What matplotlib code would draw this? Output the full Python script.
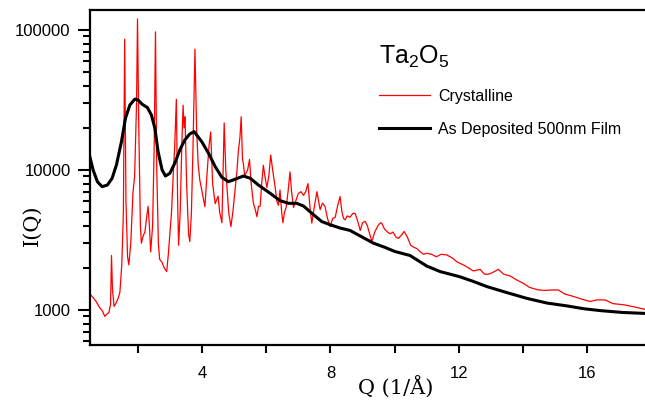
import numpy as np
import matplotlib
matplotlib.use("Agg")
import matplotlib.pyplot as plt
from matplotlib.ticker import FixedLocator, FuncFormatter

# Crystalline Ta2O5 (red)
q_cryst = [0.51, 0.60, 0.70, 0.80, 0.90, 0.97, 1.03, 1.10, 1.15, 1.18, 1.21, 1.26, 1.32, 1.38, 1.44,
           1.50, 1.55, 1.59, 1.63, 1.68, 1.72, 1.78, 1.85, 1.90, 1.96, 1.99, 2.03, 2.08, 2.11, 2.17,
           2.22, 2.27, 2.32, 2.36, 2.40, 2.46, 2.51, 2.55, 2.59, 2.64, 2.68, 2.75, 2.82, 2.90, 2.95,
           3.00, 3.05, 3.10, 3.15, 3.20, 3.24, 3.27, 3.32, 3.37, 3.41, 3.44, 3.47, 3.52, 3.58, 3.62,
           3.67, 3.72, 3.78, 3.83, 3.88, 3.93, 4.00, 4.09, 4.15, 4.22, 4.27, 4.33, 4.41, 4.50, 4.55,
           4.62, 4.69, 4.74, 4.77, 4.83, 4.90, 4.96, 5.03, 5.09, 5.13, 5.18, 5.22, 5.26, 5.29, 5.33,
           5.37, 5.42, 5.48, 5.53, 5.60, 5.66, 5.71, 5.76, 5.81, 5.86, 5.91, 5.96, 6.02, 6.08, 6.14,
           6.20, 6.28, 6.33, 6.38, 6.43, 6.48, 6.52, 6.57, 6.62, 6.68, 6.74, 6.79, 6.85, 6.92, 7.00,
           7.08, 7.16, 7.23, 7.30, 7.36, 7.42, 7.50, 7.58, 7.63, 7.68, 7.75, 7.83, 7.91, 7.99, 8.07,
           8.15, 8.22, 8.30, 8.36, 8.41, 8.46, 8.52, 8.61, 8.70, 8.77, 8.85, 8.93, 9.00, 9.08, 9.15,
           9.22, 9.29, 9.38, 9.48, 9.56, 9.60, 9.68, 9.78, 9.86, 9.95, 10.05, 10.12, 10.20, 10.30, 10.40,
           10.50, 10.60, 10.69, 10.80, 10.90, 11.00, 11.15, 11.30, 11.45, 11.63, 11.80, 11.95, 12.14, 12.30, 12.45,
           12.66, 12.80, 12.92, 13.05, 13.23, 13.40, 13.60, 13.80, 14.01, 14.20, 14.48, 14.70, 14.90, 15.10, 15.30,
           15.57, 15.80, 16.09, 16.30, 16.56, 16.80, 17.13, 17.40, 17.80]
i_cryst = [1300, 1230, 1150, 1050, 980, 900, 930, 960, 1100, 2450, 1400, 1060, 1120, 1200, 1330,
           2100, 5000, 86000, 6000, 2400, 2100, 3000, 7000, 9000, 30000, 120000, 20000, 4000, 3000, 3400,
           3600, 4500, 5500, 4000, 2600, 4000, 15000, 97000, 10000, 3000, 2300, 2200, 2000, 1880, 2500,
           3550, 5000, 8900, 15000, 32000, 6000, 2900, 5000, 15000, 29000, 20000, 24000, 8000, 3500, 3080,
           5000, 15000, 73000, 20000, 11000, 8500, 7000, 5470, 9000, 15000, 18700, 8000, 5750, 6500, 5000,
           4200, 21700, 10000, 8000, 5000, 3940, 5000, 7200, 10000, 13500, 17000, 24000, 12000, 11000, 9000,
           9500, 10000, 11900, 8000, 5800, 5200, 4640, 5500, 5500, 8000, 10800, 9000, 7500, 9000, 12800,
           10000, 7500, 6000, 5600, 7200, 5000, 4200, 5000, 5400, 7000, 9700, 7000, 5400, 6000, 6800,
           7000, 6600, 7000, 8000, 5500, 4170, 5500, 7000, 6000, 5200, 5800, 5500, 4500, 3940, 4500,
           4600, 5500, 6460, 5000, 4500, 4400, 4700, 4600, 4900, 4900, 4300, 3700, 4200, 4300, 4000,
           3500, 3080, 3600, 4000, 4200, 4170, 3800, 3600, 3500, 3600, 3300, 3250, 3400, 3640, 3300,
           2900, 2800, 2750, 2600, 2500, 2540, 2500, 2400, 2500, 2470, 2350, 2200, 2100, 2000, 1900,
           1950, 1800, 1800, 1850, 1950, 1800, 1750, 1640, 1550, 1450, 1390, 1380, 1390, 1390, 1300,
           1250, 1200, 1150, 1180, 1180, 1110, 1090, 1060, 1010]

# As deposited 500nm film (black)
q_film = [0.505, 0.607, 0.741, 0.888, 1.053, 1.199, 1.333, 1.489, 1.614, 1.751, 1.907, 2.009, 2.134,
          2.299, 2.424, 2.530, 2.632, 2.757, 2.860, 2.997, 3.153, 3.308, 3.464, 3.620, 3.754, 3.994,
          4.200, 4.408, 4.617, 4.822, 5.030, 5.290, 5.500, 5.757, 6.120, 6.430, 6.690, 6.950, 7.160,
          7.420, 7.730, 8.010, 8.300, 8.610, 9.340, 9.700, 10.00, 10.48, 11.00, 11.42, 12.02, 12.45,
          12.87, 13.50, 14.12, 14.75, 15.36, 15.90, 16.40, 17.10, 17.80]
i_film = [12450, 10000, 8240, 7600, 7810, 8730, 10860, 15900, 23400, 29100, 32100, 31600, 29500,
          27900, 24700, 19900, 13500, 10000, 9060, 9470, 11200, 13900, 16400, 18100, 18800, 15900,
          13200, 10600, 8870, 8250, 8590, 9060, 8730, 7810, 6820, 6040, 5780, 5780, 5530,
          4910, 4280, 4050, 3850, 3700, 3000, 2800, 2620, 2450, 2060, 1880, 1730, 1600,
          1470, 1330, 1210, 1120, 1070, 1020, 990, 960, 945]

y_ticks = [1000, 10000, 100000]
x_ticks = [4, 8, 12, 16]
x_minor = [2, 6, 10, 14]

plt.rcParams['font.family'] = ['Liberation Sans', 'DejaVu Sans']
plt.rcParams['mathtext.fontset'] = 'custom'
plt.rcParams['mathtext.rm'] = 'Liberation Sans'
plt.rcParams['mathtext.default'] = 'regular'

fig = plt.figure(figsize=(6.45, 4.12), dpi=100)
ax = fig.add_axes([90 / 645, 67 / 412, 555 / 645, 335 / 412])

ax.plot(q_cryst, i_cryst, color='#ff0000', lw=0.9, label='Crystalline')
ax.plot(q_film, i_film, color='black', lw=2.2, label='As Deposited 500nm Film',
        solid_joinstyle='round')

ax.set_yscale('log')
ax.set_xlim(0.51, 17.8)
ax.set_ylim(562, 139000)

ax.xaxis.set_major_locator(FixedLocator(x_ticks))
ax.xaxis.set_minor_locator(FixedLocator(x_minor))
ax.yaxis.set_major_locator(FixedLocator(y_ticks))
ax.yaxis.set_major_formatter(FuncFormatter(lambda v, p: '%d' % v))
ax.tick_params(axis='y', which='major', length=9, width=1.5, labelsize=12, pad=5)
ax.tick_params(axis='y', which='minor', length=5, width=1.5)
ax.tick_params(axis='x', which='both', length=6, width=1.5, labelsize=12, pad=9)

for s in ['left', 'bottom', 'top']:
    ax.spines[s].set_linewidth(1.6)
ax.spines['right'].set_visible(False)

ax.set_xlabel('Q (1/Å)', family='DejaVu Serif', fontsize=15)
ax.set_ylabel('I(Q)', family='DejaVu Serif', fontsize=15)
ax.xaxis.set_label_coords(0.551, -0.092)
ax.yaxis.set_label_coords(-0.087, 0.358)

leg = ax.legend(loc='upper left', bbox_to_anchor=(371 / 645, 1 - 36 / 412),
                bbox_transform=fig.transFigure, frameon=False, fontsize=11.5,
                title='Ta$_2$O$_5$', title_fontsize=18, alignment='left',
                handlelength=3.2, handletextpad=0.5, labelspacing=1.15, borderpad=0)

fig.savefig('out.png', dpi=100)
